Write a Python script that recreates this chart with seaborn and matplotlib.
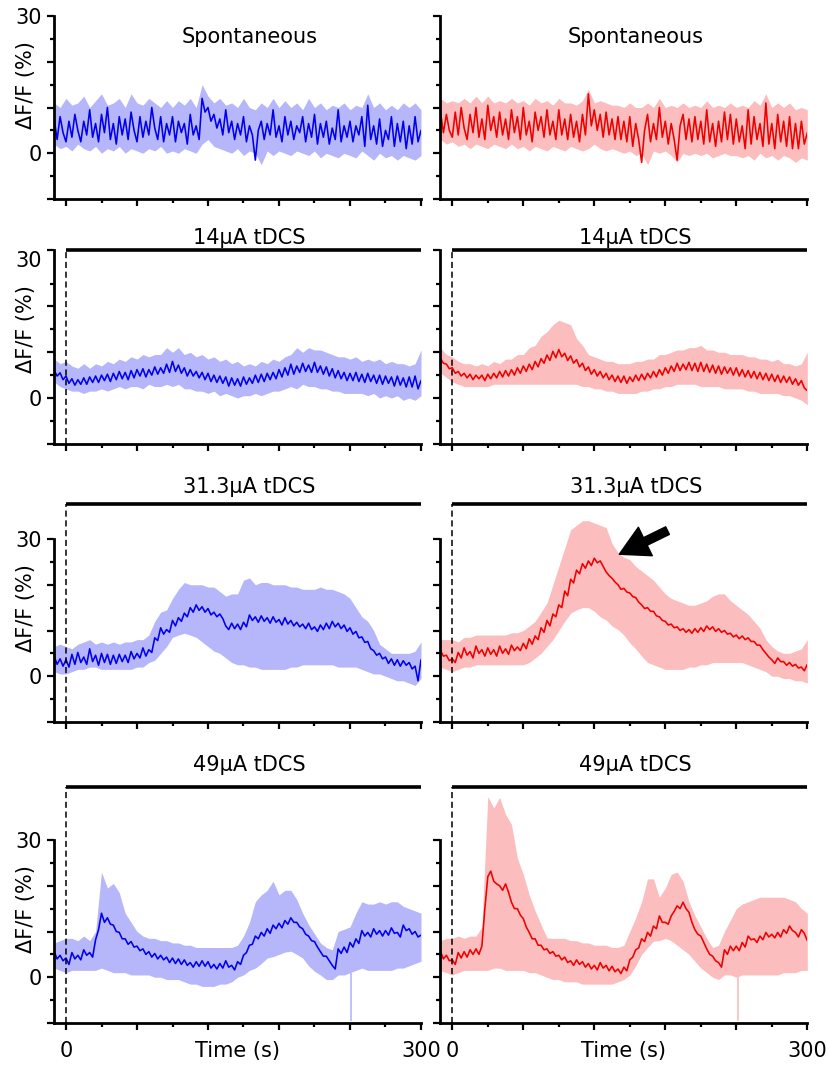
import matplotlib
matplotlib.use("Agg")
import matplotlib.pyplot as plt
import matplotlib.transforms as mtransforms
import seaborn as sns

# sample times (s): mean traces every 2.5 s, SEM envelopes every 5 s
T = [i * 2.5 for i in range(-4, 121)]
BAND_T = list(range(-10, 305, 5))

TITLES = ["Spontaneous", "14\u03bcA tDCS", "31.3\u03bcA tDCS", "49\u03bcA tDCS"]

# ---------------- blue (left column) ----------------
BLUE_SPON = [7.5, 3, 8, 4.5, 2.5, 7, 3.5, 8.5, 5, 2.5,
             7, 4, 9.5, 3.5, 6.5, 2.5, 8.5, 4.5, 10, 3,
             6.5, 2, 8, 4, 7.5, 3, 9, 5, 2.5, 8,
             3.5, 7, 4, 10, 5.5, 3, 8, 2.5, 6.5, 4,
             8, 2.5, 7, 4.5, 6.5, 2, 8.5, 4, 6, 3,
             12, 9, 10, 7, 8.5, 5.5, 7.5, 4, 9.5, 4.5,
             7, 3, 6.5, 4, 8, 2.5, 6, 4, -1.5, 5,
             7, 3, 6.5, 4, 9.5, 3.5, 6, 2.5, 8, 4,
             7, 3, 6, 4.5, 8, 2.5, 6.5, 3.5, 8.5, 2,
             6.5, 3.5, 7, 2, 5.5, 3, 9.5, 2.5, 6, 3.5,
             7, 2.5, 6, 4, 8, 1.5, 10.5, 3, 6, 2,
             7.5, 1.5, 5, 3, 8, 1.5, 6.5, 2.5, 7, 1,
             6, 2, 8, 2.5, 5]
BLUE_SPON_HI = [11, 10, 12, 10.5, 11, 12.5, 10, 11.5, 13, 10.5,
                11, 12, 10, 13, 11, 10.5, 12, 11, 10, 11.5,
                10, 11.5, 10.5, 12, 10, 15, 12.5, 11, 12, 10.5,
                11, 10, 12, 10, 9.5, 11, 10, 12, 10, 11.5,
                10, 11, 9.5, 12, 10, 11, 9.5, 10.5, 10, 11,
                9.5, 10.5, 10, 13, 10, 11, 9.5, 10.5, 9.5, 11,
                10, 11, 9.5]
BLUE_SPON_LO = [2, 1, 1.5, 0.5, 2, 1, 0.5, 1.5, 0, 1,
                0.5, 1.5, 0, 1, 0.5, 0, 1, 0.5, 1.5, 0,
                0.5, 0, 1, 0.5, 0, 2, 3, 1.5, 1, 0.5,
                0, 1, -0.5, 0.5, 0, -2.5, 0.5, -0.5, 0.5, 0,
                -0.5, 0.5, 0, -0.5, 0.5, -1, 0, -0.5, -1, 0,
                -0.5, -1, 0.5, -0.5, -1.5, 0, -1, -0.5, -1.5, -0.5,
                -1, -1.5, -0.5]

BLUE_14 = [6, 4.8, 5.5, 4, 4.8, 3.2, 4.2, 2.8, 4, 3,
           4.4, 3, 4.6, 3.4, 4.8, 3.4, 5, 3.8, 5.2, 3.6,
           5.4, 4, 5.8, 4.2, 5.6, 4, 6, 4.4, 6.2, 4.8,
           6.4, 4.6, 6.2, 5, 6.8, 5.2, 6.6, 5.4, 7.4, 5.6,
           8, 5.8, 7.2, 5.4, 6.6, 4.8, 6.2, 4.8, 5.8, 4.4,
           5.6, 4, 5.4, 3.6, 5, 3.4, 4.8, 3.2, 4.6, 2.6,
           4.4, 2.8, 4.2, 2.6, 4.6, 3, 4.4, 3.2, 5, 3.4,
           5.2, 3.6, 5.4, 4, 5.6, 4.2, 6.2, 4.6, 6.6, 5,
           7.4, 5.2, 7, 5.6, 7.6, 5.8, 7.2, 5.6, 7.8, 5.6,
           7, 5.2, 6.8, 4.8, 6.4, 4.4, 6, 4.2, 5.6, 3.8,
           5.4, 3.8, 5.6, 3.6, 5.2, 3.4, 5.4, 3.6, 5, 3.2,
           5, 3, 4.8, 3.2, 4.6, 2.6, 4.8, 2.8, 4.4, 2.4,
           4.6, 2.4, 4.8, 2, 3.8]
BLUE_14_HI = [8.5, 7.5, 8, 7, 6.5, 7.5, 6.5, 7.5, 7, 8,
              7.5, 8.5, 8, 9, 8.5, 9.5, 9, 9.5, 9.5, 11,
              10, 11, 9.5, 10, 9, 9.5, 8.5, 9, 8, 8.5,
              7.5, 8, 7, 7.5, 7, 8, 7.5, 8.5, 8, 9,
              9.5, 11, 10, 11, 10.5, 10.5, 10, 9.5, 9, 9,
              8.5, 9, 8, 8.5, 8, 8.5, 7.5, 8, 7.5, 7.5,
              7, 7.5, 10.5]
BLUE_14_LO = [3.5, 2.5, 2, 1.5, 1.5, 1, 1.5, 1.5, 2, 1.5,
              2, 2.5, 2, 2.5, 2.5, 2, 3, 2.5, 2.5, 3,
              2.5, 3, 2, 2, 1.5, 1.5, 1, 1.5, 0.5, 1,
              0.5, 0, 0.5, 0.5, 1, 0.5, 1, 1.5, 1.5, 2,
              2.5, 2, 3, 2.5, 2.5, 2, 2, 1.5, 1.5, 1,
              1, 1, 1, 0.5, 1, 0, 0.5, 0, 0.5, -0.5,
              0, -0.5, 0.5]

BLUE_31 = [4.4, 2.6, 3.8, 2.2, 3.6, 2, 4.8, 2.6, 5.2, 3,
           4.2, 2.6, 6, 3.2, 4.6, 2.4, 5, 3, 4.8, 2.6,
           4.6, 2.8, 4.8, 3.2, 4.6, 3, 5.4, 3.8, 5, 4,
           6.2, 4.4, 5.8, 5.2, 8.4, 7.8, 10.6, 9.2, 10.2, 9.6,
           12.2, 11, 12.8, 12, 13.8, 13, 15, 14, 15.6, 14.4,
           15.2, 14, 14.8, 13.4, 14, 13, 13.6, 12.6, 11, 10.2,
           11.6, 10.4, 11.4, 10.2, 11.8, 10.8, 13.4, 12.2, 13, 11.8,
           13.2, 12, 12.8, 11.6, 13, 11.8, 12.4, 11.2, 12.8, 11.4,
           12.2, 11, 11.8, 10.8, 11.4, 10.4, 11.6, 10.2, 10.8, 9.8,
           11.2, 10.2, 11.6, 10.4, 12, 10.8, 11.6, 10.4, 11.2, 9.8,
           10.6, 9.2, 9.8, 8.4, 8.6, 7.4, 7.6, 6, 5.6, 4.6,
           5, 3.8, 4.2, 2.8, 3.8, 2.4, 3.6, 2.2, 3.4, 2.4,
           3, 1.6, 2.2, -1, 3.6]
BLUE_31_HI = [6.5, 7, 6.5, 6, 7, 7.5, 8, 7, 7.5, 7,
              7.5, 7, 7.5, 7.5, 8, 8, 9, 12, 14, 14.5,
              17, 19, 20.5, 20, 20, 20, 19.5, 19.5, 18.5, 17.5,
              18, 18, 21, 21.5, 20, 20.5, 20.5, 20, 20, 20,
              19.5, 19.5, 19, 19, 19, 19.5, 19, 19, 18.5, 18,
              17, 15, 13, 12, 10, 7, 6, 5, 5, 5,
              5, 5.5, 7.5]
BLUE_31_LO = [1, 0.5, 0.5, 1, 1.5, 1.5, 2, 2, 1.5, 1.5,
              1.5, 1.5, 1.5, 1.5, 2, 2, 3, 3.5, 5, 6.5,
              8.5, 9, 9.4, 9, 8.5, 7.5, 6.5, 5.5, 5, 4,
              3, 2.5, 2.5, 2, 2, 1.5, 1.5, 1.5, 1.5, 1.5,
              2, 2, 2.5, 2.5, 2.5, 2.5, 2.5, 2.5, 2, 2,
              2, 2, 1.5, 1, 0.5, 0.5, 0, -0.5, -1, -1,
              -1.5, -2, -0.5]

BLUE_49 = [5.6, 4, 4.8, 3.6, 4.2, 2.8, 5.4, 4, 4.8, 3.8,
           6, 4.8, 5.4, 4.4, 8.2, 10.4, 14, 12, 13, 11.6,
           11.4, 10, 9.8, 8.4, 8.4, 7.2, 7.8, 6.6, 6.8, 5.8,
           6.2, 5, 5.6, 4.4, 5.2, 4, 4.8, 3.8, 4.4, 3.2,
           4.2, 3, 4, 2.8, 3.8, 2.6, 3.2, 2.2, 3.4, 2.4,
           3.6, 2.4, 3.4, 2, 2.8, 1.8, 3, 2, 3.6, 2.2,
           2.6, 1.6, 3.4, 2.8, 4.8, 5.4, 7, 7.2, 9, 8.4,
           9.8, 9, 10.6, 9.6, 11.4, 10.6, 11.8, 10.8, 12.4, 11.6,
           13, 12, 12, 11, 10.6, 9.4, 9, 8, 7.8, 6.6,
           5.6, 4.6, 4.6, 3.6, 2.6, 1.8, 6.2, 5.2, 6.6, 5.4,
           7.6, 6.6, 8.4, 7.4, 10.2, 9, 9.8, 8.8, 10.6, 9.4,
           10.2, 9, 10.2, 9.2, 10.8, 9.6, 9.8, 8.8, 11.4, 10.2,
           10.6, 9.4, 10, 8.8, 9.2]
BLUE_49_HI = [7.5, 8, 8.5, 8.5, 8, 9, 8, 10, 23, 19.5,
              20.5, 18.5, 14, 12, 10, 9, 8.5, 8.5, 8, 8,
              7.5, 7.5, 7, 7, 6.5, 6.5, 6.5, 6.5, 6.5, 6.5,
              6.5, 7, 9, 12, 16.5, 18, 19, 21, 18, 19,
              19, 17, 14, 11.5, 9.5, 7.5, 6.5, 6, 10, 10.5,
              11, 14, 16.5, 16, 16, 16.5, 16, 16.5, 16.5, 15.5,
              15, 14.5, 14]
BLUE_49_LO = [2, 1.5, 1, 1.5, 1.5, 1.5, 1.5, 1.5, 2, 1.5,
              1, 1, 1, 0.5, 0.5, 0.5, 0.5, 0, 0, -0.5,
              -0.5, -0.5, -1, -1.5, -1.5, -2, -2, -2, -1.5, -1.5,
              -1, 0, 0.5, 1.5, 2, 3, 4.2, 4.5, 5, 5.5,
              5.7, 5, 4.2, 2.5, 1.3, 0.5, -0.5, -0.5, 0.5, 0.5,
              1, 1.5, 2, 1.5, 1.5, 1.5, 1.5, 1.5, 2, 2,
              2.5, 3, 3.5]

# ---------------- red (right column) ----------------
RED_SPON = [9, 4.5, 8.5, 5, 3.5, 9, 4, 10, 5.5, 3,
            8.5, 4.5, 10, 3.5, 7.5, 3, 10.5, 5, 8, 3.5,
            9, 4, 7.5, 3, 9.5, 4.5, 8, 3, 10, 4,
            7, 2.5, 9, 5, 8, 3.5, 9.5, 4, 7, 3,
            9.5, 4, 7.5, 3, 8.5, 3.5, 7, 2.5, 8.5, 4,
            13, 6, 9.5, 5, 8.5, 3.5, 9, 4, 7.5, 3,
            8, 3, 7, 2.5, 8, 1.5, 6.5, 3, -2, 5,
            8.5, 2.5, 6.5, 3, 10, 3.5, 7, 2, 6.5, 3,
            -1.5, 6, 8.5, 3, 7.5, 2.5, 8, 3, 7, 2,
            9.5, 2.5, 6.5, 1.5, 7, 2.5, 9, 3, 8.5, 2,
            7.5, 2.5, 6, 1, 9.5, 2, 8, 3, 6.5, 1.5,
            11, 2, 6.5, 1, 8.5, 2.5, 7, 1.5, 8, 1,
            6.5, 1, 7, 2, 4.5]
RED_SPON_HI = [12, 11, 11.5, 11, 12, 11, 12.5, 11, 12.5, 11,
               11.5, 11, 12, 11, 11.5, 10.5, 12, 11, 11.5, 10.5,
               12, 11, 11, 10.5, 11.5, 14, 11, 11.5, 11, 10.5,
               10.5, 10, 11, 10, 10, 11, 10, 12, 10, 10.5,
               10, 11, 10, 10.5, 10, 11.5, 10, 10.5, 10, 11,
               10, 10.5, 10, 11.5, 10.5, 13, 10, 11, 10, 11,
               9.5, 10, 9.5]
RED_SPON_LO = [3, 2, 2.5, 1.5, 2, 1, 2, 1.5, 1, 2,
               1.5, 1, 2, 1, 1.5, 0.5, 1.5, 1, 0.5, 1.5,
               1, 0.5, 1.5, 1, 0.5, 1, 2, 1, 0.5, 1,
               0.5, 0, 0.5, -0.5, 0, -2.5, 0.5, 0, 0.5, -0.5,
               -2, 0, -0.5, 0, -0.5, 0, -1, -0.5, 0, -0.5,
               -0.5, -1, -0.5, -1.5, 0, -1, -0.5, -1.5, -0.5, -1,
               -2, -1, -1.5]

RED_14 = [8.6, 7.6, 7.4, 6.4, 6.6, 5.4, 5.8, 4.8, 5.4, 4.4,
          5.2, 4, 5, 4.2, 5, 3.8, 5.2, 4.2, 5.4, 4.4,
          5.8, 4.6, 6, 4.8, 6.2, 5, 6.6, 5.4, 7, 5.8,
          7.4, 6.2, 8, 6.8, 8.6, 7.6, 9.4, 8.2, 10.2, 8.8,
          10.6, 9, 9.8, 8.2, 9.2, 7.6, 8.4, 6.8, 7.6, 6,
          6.8, 5.2, 6.2, 4.8, 5.8, 4.4, 5.4, 4, 5, 3.6,
          4.8, 3.4, 4.8, 3.2, 4.6, 3.6, 5, 3.8, 5.2, 4,
          5.4, 4.4, 5.8, 4.6, 6.2, 5, 6.6, 5.4, 7, 5.8,
          7.6, 6, 7.4, 6.2, 7.8, 6, 7.6, 5.8, 7.8, 5.8,
          7.4, 5.6, 7.2, 5.4, 7, 5.2, 6.8, 5.4, 6.6, 5,
          6.6, 4.8, 6.2, 4.6, 6, 4.4, 5.8, 4.2, 5.6, 4,
          5.4, 3.8, 5.2, 3.6, 5, 3.4, 4.8, 3.4, 4.6, 3,
          4.2, 2.8, 3.8, 2.2, 1.6]
RED_14_HI = [11, 9.5, 9, 8, 7.5, 7.5, 7, 7.5, 7, 8,
             7.5, 8.5, 8.5, 9.5, 9.5, 11, 11.5, 13.5, 14.5, 16,
             17, 16.5, 16, 13, 11.5, 9.5, 9, 8.5, 8, 8,
             7.5, 7.5, 7.5, 8, 8, 8.5, 8.5, 9.5, 9.5, 10,
             10.5, 10.5, 11, 11, 11.5, 10.5, 10.5, 10, 10, 9.5,
             9.5, 9.5, 9, 9, 8.5, 8.5, 8, 8.5, 7.5, 7.5,
             7, 7.5, 10]
RED_14_LO = [5.5, 4.5, 3.5, 3, 2.5, 2.5, 2.5, 2.5, 2.5, 3,
             3, 3, 3, 3, 3, 3, 3, 3, 3, 3,
             3, 3, 3, 3, 2.5, 2.5, 2, 2, 1.5, 1.5,
             1, 1, 1, 1, 1.5, 1.5, 2, 2, 2.5, 2.5,
             3, 3, 3, 3, 2.5, 2.5, 2.5, 2.5, 2, 2,
             2, 2, 1.5, 1.5, 1, 1, 1, 1, 0.5, 0.5,
             0, -0.5, -1.5]

RED_31 = [5.6, 4.4, 4.6, 3.4, 3.8, 3, 5.2, 4, 6.2, 4.6,
          5.4, 4, 6.6, 5, 5.8, 4.4, 6.2, 4.8, 5.8, 4.4,
          6.6, 5, 6, 4.8, 6.8, 5.6, 6.4, 5.6, 7.2, 6,
          8.2, 7, 8.8, 8, 10.6, 9.6, 12.2, 11, 13.6, 13,
          15.6, 15, 18.6, 17.6, 21.2, 20.4, 23.2, 22.4, 24.6, 23.6,
          25.2, 24.2, 25.8, 24.8, 25.2, 24, 22.8, 22, 21.4, 20.6,
          20, 19, 19.2, 18.4, 18.2, 17.4, 17.2, 16.2, 15.6, 14.8,
          15, 14.2, 14.2, 13.2, 13, 12.2, 12, 11.2, 11.4, 10.6,
          10.8, 10, 10.4, 9.6, 10.2, 9.4, 10.4, 9.6, 10.6, 9.8,
          11, 10.2, 10.8, 9.8, 10.4, 9.6, 10, 9.2, 9.4, 8.6,
          9, 8.2, 8.8, 8, 8.4, 7.6, 7.6, 6.8, 6.8, 5.8,
          5, 4.2, 3.6, 2.8, 4, 3.2, 3.2, 2.4, 3, 2.2,
          2.6, 1.8, 2, 1.2, 2.6]
RED_31_HI = [8, 8, 8, 7.5, 8.5, 8.5, 9, 9, 9, 9,
             9, 9, 9.5, 9.5, 10, 11, 12, 14, 16, 20,
             24, 28, 32, 33, 34, 34, 33.5, 33, 32.5, 29,
             27, 26, 25.5, 24, 23, 22, 21, 19.5, 18, 17,
             16.5, 16, 15.5, 15.5, 16, 16.5, 17.5, 18, 18, 16.5,
             15.5, 14.5, 13.5, 12, 10.5, 8, 6.5, 5.5, 5, 5,
             5.5, 6, 8]
RED_31_LO = [2, 1.5, 1, 1.5, 2, 2, 2.5, 2.5, 2.5, 2.5,
             2.5, 2.5, 2.5, 2.5, 2.5, 3, 4, 5, 6.5, 8,
             10, 12, 13.8, 14.5, 15, 15, 14.2, 13, 12.3, 11,
             10.2, 9, 7.3, 6, 4.4, 3, 2.5, 2, 1.5, 1.5,
             1.5, 1.5, 2, 2, 2.5, 2.5, 3, 3, 3, 3,
             3, 3, 2.5, 2, 1.5, 1, 0, 0, -0.5, -0.5,
             -1, -1, -1.5]

RED_49 = [5.6, 4, 4.8, 3.6, 3.8, 2.8, 5.4, 4.2, 5.6, 4.4,
          6, 5, 6.2, 5, 6.8, 15, 22, 23.2, 21, 20.4,
          20, 19, 20.4, 18.6, 16.4, 15, 15, 13.6, 12.8, 11,
          9.8, 8.4, 8.4, 7, 7, 6, 6.2, 5.2, 5.6, 4.6,
          4.8, 3.8, 4.4, 3.2, 3.6, 2.6, 3.8, 2.8, 3.4, 2.2,
          3, 1.8, 2.6, 1.6, 3.2, 2, 2.6, 1.4, 2.4, 1.2,
          1.8, 0.8, 2.2, 1.4, 3.8, 4.4, 6, 6.4, 8.4, 7.8,
          9.8, 9, 11.2, 10.6, 13.4, 12, 12, 11.6, 13.4, 14.4,
          15.6, 15, 16.4, 15, 14.2, 12, 10.4, 9.4, 9, 7.6,
          6.2, 5, 4.6, 3.6, 3.2, 2.2, 6, 5, 6.8, 5.8,
          6.8, 5.8, 7.6, 6.6, 9, 8.2, 8.4, 7.6, 9, 8.2,
          9.8, 8.8, 9.4, 8.6, 9.8, 8.8, 10.4, 9.6, 11.2, 10.2,
          9.8, 8.8, 10.4, 9.6, 8]
RED_49_HI = [8, 8.5, 8.5, 9, 8.5, 9, 9, 11, 39.5, 37,
             39.3, 35.6, 33.4, 26, 22.5, 18, 14.5, 11.5, 8.6, 8.5,
             8.5, 8.5, 8, 8, 7.5, 7.5, 7, 7, 7, 6.5,
             6.5, 7, 10, 13, 16.5, 21.5, 21.5, 17.5, 19.5, 22.5,
             23, 21, 16.5, 13.5, 11, 8.5, 6.5, 7, 10, 12.5,
             15, 16, 16.5, 17, 17.5, 17.5, 17.5, 17.5, 17.5, 17,
             16.5, 15, 14]
RED_49_LO = [1.5, 1, 0.5, 1, 1.5, 1.5, 1.5, 1.5, 1.5, 2,
             2, 1.5, 1.5, 1.5, 1.5, 1, 1, 0.5, 0, -0.5,
             -0.5, -1, -1, -1, -1.5, -1.5, -1.5, -1.5, -1.5, -1.5,
             -1, -0.5, 0.5, 2.5, 5, 6.5, 7.9, 8, 8.5, 8,
             7, 6, 5, 3.5, 2, 1, 0, -0.5, 0.5, 0.5,
             0, 0.5, 0.5, 0.5, 0.5, 0.5, 0.5, 0.5, 1, 1,
             1, 1.5, 1.5]

# one-sample dropout in the 49 uA envelopes (blue, red)
GLITCH_T = [241, 241.5]
GLITCH_LOW = [-9.5, -9.5]
GLITCH_TOP = [1, 0]

BLUE_TRACES = [(BLUE_SPON, BLUE_SPON_LO, BLUE_SPON_HI), (BLUE_14, BLUE_14_LO, BLUE_14_HI),
               (BLUE_31, BLUE_31_LO, BLUE_31_HI), (BLUE_49, BLUE_49_LO, BLUE_49_HI)]
RED_TRACES = [(RED_SPON, RED_SPON_LO, RED_SPON_HI), (RED_14, RED_14_LO, RED_14_HI),
              (RED_31, RED_31_LO, RED_31_HI), (RED_49, RED_49_LO, RED_49_HI)]

for m, lo, hi in BLUE_TRACES + RED_TRACES:
    assert len(m) == len(T), len(m)
    assert len(lo) == len(BAND_T) and len(hi) == len(BAND_T), (len(lo), len(hi))

# ---------------- layout (pixels of an 829x1068 canvas) ----------------
W, H = 829, 1068
PX_PER_S = 355 / 300
PX_PER_U = 183 / 40
COL_ZERO_PX = [66, 452.3]
ROW_BOTTOM_PX = [199, 443.75, 722, 1023]
ROW_YTOP = [30, 37, 44, 49]
BAR_Y = [None, 32.3, 37.7, 41.6]
TITLE_Y = [25.4, 35.0, 41.4, 46.3]
SPINE_TOP = [30, 32.3, 30, 30]

LINE_COLORS = ["#0000ee", "#ee0000"]
BAND_COLORS = ["#b6b6fb", "#fbbdbd"]
FS = 15

sns.set_style("ticks")
plt.rcParams["font.family"] = ["DejaVu Sans"]
plt.rcParams.update({"text.color": "black", "axes.labelcolor": "black",
                     "xtick.color": "black", "ytick.color": "black"})

fig = plt.figure(figsize=(W / 100, H / 100), dpi=100)

for r in range(4):
    for c in range(2):
        left = (COL_ZERO_PX[c] - 10 * PX_PER_S) / W
        width = 310 * PX_PER_S / W
        height_px = (ROW_YTOP[r] + 10) * PX_PER_U
        bottom = 1 - ROW_BOTTOM_PX[r] / H
        ax = fig.add_axes([left, bottom, width, height_px / H])
        ax.set_facecolor("none")

        mean, lo, hi = (BLUE_TRACES if c == 0 else RED_TRACES)[r]
        ax.fill_between(BAND_T, lo, hi, color=BAND_COLORS[c], lw=0, zorder=1)
        if r == 3:
            ax.vlines(GLITCH_T[c], GLITCH_LOW[c], GLITCH_TOP[c], color=BAND_COLORS[c], lw=1.2, zorder=1)
        sns.lineplot(x=T, y=mean, ax=ax, color=LINE_COLORS[c], linewidth=1.15,
                     estimator=None, zorder=2)

        ax.set_xlim(-10, 300)
        ax.set_ylim(-10, ROW_YTOP[r])

        for side in ("top", "right"):
            ax.spines[side].set_visible(False)
        for side in ("left", "bottom"):
            ax.spines[side].set_linewidth(2.0)
            ax.spines[side].set_color("black")
        ax.spines["left"].set_bounds(-10, SPINE_TOP[r])
        ax.spines["bottom"].set_bounds(-10, 300)

        ax.set_xticks([0, 60, 120, 180, 240, 300])
        ax.set_xticks([30, 90, 150, 210, 270], minor=True)
        ax.set_yticks([-10, 0, 10, 20, SPINE_TOP[r]])
        ax.set_yticks([-5, 5, 15, 25], minor=True)
        ax.tick_params(which="major", direction="out", length=5, width=1.6,
                       labelsize=FS, pad=4)
        ax.tick_params(which="minor", direction="out", length=3, width=1.6)
        ax.tick_params(axis="x", pad=8)

        if r == 3:
            ax.set_xticklabels(["0", "", "", "", "", "300"])
            ax.set_xlabel("Time (s)", fontsize=FS)
            ax.xaxis.set_label_coords(0.5, -18 / height_px)
        else:
            ax.set_xticklabels([])
            ax.set_xlabel("")

        if c == 0:
            if r == 1:
                ax.set_yticklabels(["", "0", "", "", ""])
                ax.annotate("30", xy=(0, 30), xycoords=ax.get_yaxis_transform(),
                            xytext=(-9, 0), textcoords="offset points",
                            ha="right", va="center", fontsize=FS)
            else:
                ax.set_yticklabels(["", "0", "", "", "30"])
            ax.set_ylabel("\u0394F/F (%)", fontsize=FS)
            ax.yaxis.set_label_coords(-0.05, 15,
                                      transform=mtransforms.blended_transform_factory(ax.transAxes, ax.transData))
        else:
            ax.set_yticklabels([])
            ax.set_ylabel("")

        ax.text(155, TITLE_Y[r], TITLES[r], ha="center", va="center", fontsize=FS)

        if BAR_Y[r] is not None:
            ax.plot([0, 300], [BAR_Y[r], BAR_Y[r]], color="black", lw=2.6,
                    solid_capstyle="butt", clip_on=False, zorder=3)
            ax.plot([0, 0], [-10, BAR_Y[r]], color="black", lw=1.1,
                    linestyle=(0, (4, 2.4)), clip_on=False, zorder=3)

        if r == 2 and c == 1:
            ax.annotate("", xy=(139, 26.4), xytext=(184, 32.1),
                        arrowprops=dict(arrowstyle="simple,head_length=1.1,head_width=1.2,tail_width=0.32",
                                        fc="black", ec="black", mutation_scale=19),
                        zorder=4)

fig.savefig("out.png", dpi=100)
